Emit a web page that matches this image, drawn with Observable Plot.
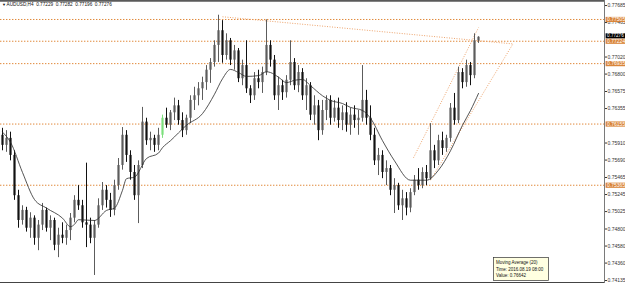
<!DOCTYPE html>
<html><head><meta charset="utf-8">
<script src="https://cdn.jsdelivr.net/npm/d3@7"></script>
<script src="https://cdn.jsdelivr.net/npm/@observablehq/plot@0.6"></script>
<style>html,body{margin:0;padding:0;background:#fff;overflow:hidden}svg{display:block;overflow:visible}</style>
</head><body><div id="chart"></div>
<script>
const symbol = "AUDUSD,H4";
const open = [
0.7601,0.7588,0.7597,0.7575,0.7523,0.7491,0.7504,0.7481,0.7494,0.7468,
0.7485,0.7504,0.7481,0.7491,0.7459,0.7472,0.7468,0.7478,0.7494,0.7517,
0.7510,0.7488,0.7485,0.7468,0.7485,0.7510,0.7530,0.7517,0.7504,0.7536,
0.7562,0.7601,0.7575,0.7553,0.7523,0.7562,0.7618,0.7594,0.7597,0.7588,
0.7601,0.7623,0.7614,0.7630,0.7639,0.7620,0.7607,0.7623,0.7646,0.7652,
0.7661,0.7669,0.7685,0.7695,0.7717,0.7736,0.7704,0.7723,0.7698,0.7710,
0.7674,0.7691,0.7661,0.7652,0.7674,0.7669,0.7682,0.7717,0.7698,0.7652,
0.7665,0.7656,0.7672,0.7695,0.7665,0.7682,0.7652,0.7665,0.7627,0.7639,
0.7607,0.7633,0.7646,0.7623,0.7636,0.7620,0.7630,0.7614,0.7627,0.7620,
0.7623,0.7646,0.7623,0.7601,0.7568,0.7575,0.7553,0.7558,0.7530,0.7536,
0.7510,0.7519,0.7507,0.7527,0.7543,0.7536,0.7553,0.7545,0.7581,0.7568,
0.7594,0.7584,0.7597,0.7636,0.7620,0.7682,0.7669,0.7691,0.7678,0.77229];
const high = [
0.7610,0.7607,0.7605,0.7581,0.7530,0.7510,0.7508,0.7501,0.7497,0.7491,
0.7513,0.7507,0.7497,0.7494,0.7481,0.7488,0.7485,0.7500,0.7523,0.7536,
0.7517,0.7565,0.7494,0.7491,0.7519,0.7540,0.7536,0.7526,0.7543,0.7571,
0.7611,0.7607,0.7581,0.7562,0.7568,0.7637,0.7623,0.7605,0.7601,0.7610,
0.7627,0.7636,0.7633,0.7649,0.7646,0.7630,0.7627,0.7652,0.7663,0.7669,
0.7676,0.7691,0.7700,0.7723,0.7756,0.7749,0.7732,0.7726,0.7717,0.7713,
0.7698,0.7723,0.7665,0.7682,0.7685,0.7689,0.7750,0.7723,0.7704,0.7676,
0.7672,0.7678,0.7723,0.7700,0.7691,0.7687,0.7674,0.7669,0.7652,0.7646,
0.7646,0.7652,0.7652,0.7646,0.7649,0.7639,0.7643,0.7636,0.7639,0.7633,
0.7691,0.7659,0.7639,0.7610,0.7584,0.7581,0.7568,0.7562,0.7545,0.7539,
0.7530,0.7527,0.7532,0.7549,0.7558,0.7559,0.7562,0.7616,0.7588,0.7601,
0.7605,0.7601,0.7642,0.7655,0.7689,0.7687,0.7698,0.7695,0.7732,0.77282];
const low = [
0.7581,0.7579,0.7568,0.7517,0.7481,0.7485,0.7476,0.7468,0.7459,0.7452,
0.7478,0.7476,0.7465,0.7452,0.7443,0.7461,0.7459,0.7465,0.7488,0.7504,
0.7481,0.7456,0.7461,0.7420,0.7481,0.7504,0.7507,0.7495,0.7497,0.7530,
0.7556,0.7566,0.7543,0.7517,0.7487,0.7558,0.7588,0.7581,0.7579,0.7581,
0.7597,0.7610,0.7607,0.7620,0.7614,0.7598,0.7601,0.7616,0.7633,0.7639,
0.7646,0.7659,0.7668,0.7689,0.7695,0.7694,0.7698,0.7691,0.7685,0.7669,
0.7665,0.7655,0.7642,0.7646,0.7661,0.7655,0.7678,0.7689,0.7646,0.7633,
0.7646,0.7649,0.7665,0.7659,0.7656,0.7646,0.7633,0.7620,0.7614,0.7594,
0.7601,0.7620,0.7614,0.7618,0.7610,0.7607,0.7605,0.7601,0.7610,0.7601,
0.7618,0.7614,0.7594,0.7562,0.7549,0.7545,0.7536,0.7523,0.7500,0.7504,
0.7491,0.7497,0.7501,0.7523,0.7530,0.7532,0.7536,0.7543,0.7558,0.7562,
0.7575,0.7579,0.7592,0.7614,0.7616,0.7661,0.7663,0.7665,0.7674,0.77196];
const close = [
0.7588,0.7597,0.7575,0.7523,0.7491,0.7504,0.7481,0.7494,0.7468,0.7485,
0.7504,0.7481,0.7491,0.7459,0.7472,0.7468,0.7478,0.7494,0.7517,0.7510,
0.7488,0.7485,0.7468,0.7485,0.7510,0.7530,0.7517,0.7504,0.7536,0.7562,
0.7601,0.7575,0.7553,0.7523,0.7562,0.7618,0.7594,0.7597,0.7588,0.7601,
0.7623,0.7614,0.7630,0.7639,0.7620,0.7607,0.7623,0.7646,0.7652,0.7661,
0.7669,0.7685,0.7695,0.7717,0.7736,0.7704,0.7723,0.7698,0.7710,0.7674,
0.7691,0.7661,0.7652,0.7674,0.7669,0.7682,0.7717,0.7698,0.7652,0.7665,
0.7656,0.7672,0.7695,0.7665,0.7682,0.7652,0.7665,0.7627,0.7639,0.7607,
0.7633,0.7646,0.7623,0.7636,0.7620,0.7630,0.7614,0.7627,0.7620,0.7623,
0.7646,0.7623,0.7601,0.7568,0.7575,0.7553,0.7558,0.7530,0.7536,0.7510,
0.7519,0.7507,0.7527,0.7543,0.7536,0.7553,0.7545,0.7581,0.7568,0.7594,
0.7584,0.7597,0.7636,0.7620,0.7682,0.7669,0.7691,0.7678,0.7723,0.77276];
const highlightBar = 40;
const maIndex = [0,2,5,8,11,15,17,18,19,23,26,28,30,31,33,36,39,40,42,46,50,53,55,57,59,61,64,66,67,69,71,73,75,77,80,82,85,87,90,92,95,98,102,106,109,112,115,117,119];
const maValue = [0.7605,0.7592,0.7553,0.7518,0.7507,0.7494,0.7483,0.7486,0.7492,0.7491,0.7504,0.7507,0.7530,0.7545,0.7547,0.7571,0.7578,0.7585,0.7594,0.7614,0.7629,0.7654,0.7674,0.7686,0.7682,0.7677,0.7678,0.7683,0.7682,0.7676,0.7669,0.7672,0.7673,0.7665,0.7652,0.7646,0.7642,0.7637,0.7633,0.7623,0.7594,0.7568,0.7543,0.7543,0.7556,0.7581,0.7614,0.7633,0.7655];
const levels = [0.77505, 0.77224, 0.76935, 0.76155, 0.75365];
const trendStartIndex = [55, 102.75, 107];
const trendStartPrice = [0.7754, 0.7572, 0.7543];
const trendEndIndex = [127.5, 119, 127.5];
const trendEndPrice = [0.7719, 0.7740, 0.7718];
// tick labels visible on the price scale (those hidden under level boxes are left out)
const yTicks = [0.77685,0.77465,0.77020,0.76800,0.76575,0.76355,0.75910,0.75690,0.75465,0.75245,0.75025,0.74800,0.74580,0.74360,0.74135];
const tooltipLines = ["Moving Average (20)", "Time: 2016.08.19 08:00", "Value: 0.76642"];

const W = 625, H = 283, axisW = 21;
const xDomain = [-0.5, 150.5];
const yDomain = [0.740965, 0.7775];
const n = close.length;
const bars = close.map((c, i) => ({i, o: open[i], h: high[i], l: low[i], c,
  col: i === highlightBar ? "#7ee07e" : (c >= open[i] ? "#5c5c5c" : "#111")}));
const ma = maIndex.map((i, k) => ({i, v: maValue[k]}));
const trends = trendStartIndex.map((x, k) => ({x1: x, y1: trendStartPrice[k], x2: trendEndIndex[k], y2: trendEndPrice[k]}));
const last = close[n - 1];
const fmt = d => d.toFixed(5);
const ORANGE = "#e0883a";
const FONT = "Liberation Sans, Arial, sans-serif";
const title = `${symbol}  ${fmt(open[n-1])}  ${fmt(high[n-1])}  ${fmt(low[n-1])}  ${fmt(last)}`;
const pxPerIndex = (W - axisW) / (xDomain[1] - xDomain[0]);
const boxX1 = xDomain[1] + 0.4, boxX2 = xDomain[1] + axisW / pxPerIndex;

const chart = Plot.plot({
  width: W, height: H,
  marginLeft: 0, marginRight: axisW, marginTop: 0, marginBottom: 0,
  style: {fontFamily: FONT, background: "#fff", overflow: "visible"},
  x: {domain: xDomain, axis: null},
  y: {domain: yDomain, axis: null},
  color: {type: "identity"},
  marks: [
    Plot.ruleY(levels, {stroke: ORANGE, strokeWidth: 1, strokeDasharray: "1.4,1.6"}),
    Plot.link(trends, {x1: "x1", y1: "y1", x2: "x2", y2: "y2", stroke: "#eb9a5c", strokeWidth: 0.9, strokeDasharray: "1,1.5"}),
    Plot.ruleX(bars, {x: "i", y1: "l", y2: "h", stroke: "col", strokeWidth: 1}),
    Plot.ruleX(bars, {x: "i", y1: "o", y2: "c", stroke: "col", strokeWidth: 2.2}),
    Plot.line(ma, {x: "i", y: "v", stroke: "#2a2a2a", strokeWidth: 0.8, curve: "monotone-x"}),
    Plot.ruleX([xDomain[1]], {stroke: "#7a7a7a", strokeWidth: 1}),
    Plot.ruleY([yDomain[1]], {stroke: "#5a5a5a", strokeWidth: 2.4}),
    Plot.ruleY([yDomain[0]], {stroke: "#444", strokeWidth: 1, dy: -1}),
    Plot.axisY(yTicks, {anchor: "right", tickSize: 2, tickPadding: 1, fontSize: 5, color: "#333", tickFormat: fmt, label: null}),
    Plot.ruleY(levels, {x1: () => boxX1, x2: () => boxX2, stroke: "#d9853a", strokeWidth: 5.2, clip: false}),
    Plot.text(levels, {x: () => boxX1 + 0.25, y: d => d, text: fmt, textAnchor: "start", fill: "#fff", fontSize: 5, clip: false}),
    Plot.ruleY([last], {x1: () => boxX1, x2: () => boxX2, stroke: "#000", strokeWidth: 5, dy: -1.4, clip: false}),
    Plot.text([last], {x: () => boxX1 + 0.25, y: d => d, text: fmt, textAnchor: "start", fill: "#fff", fontSize: 4.6, dy: -1.4, clip: false}),
    Plot.text(["▼"], {frameAnchor: "top-left", dx: 1.5, dy: 3, fontSize: 4, lineAnchor: "top", textAnchor: "start", fill: "#111"}),
    Plot.text([title], {frameAnchor: "top-left", dx: 6, dy: 2.6, fontSize: 4.7, lineAnchor: "top", textAnchor: "start", fill: "#111"})
  ]
});
document.getElementById("chart").appendChild(chart);

// hover tooltip box of the moving-average line
const svg = d3.select(chart);
const tip = svg.append("g").attr("font-family", FONT).attr("font-size", 4.5).attr("text-anchor", "start");
tip.append("rect").attr("x", 493.5).attr("y", 257.5).attr("width", 55).attr("height", 23)
  .attr("fill", "#ffffe1").attr("stroke", "#333").attr("stroke-width", 0.7);
tip.selectAll("text").data(tooltipLines).join("text")
  .attr("x", 496).attr("y", (d, k) => 264 + k * 6.6).attr("text-anchor", "start").attr("fill", "#111").text(d => d);
</script></body></html>
